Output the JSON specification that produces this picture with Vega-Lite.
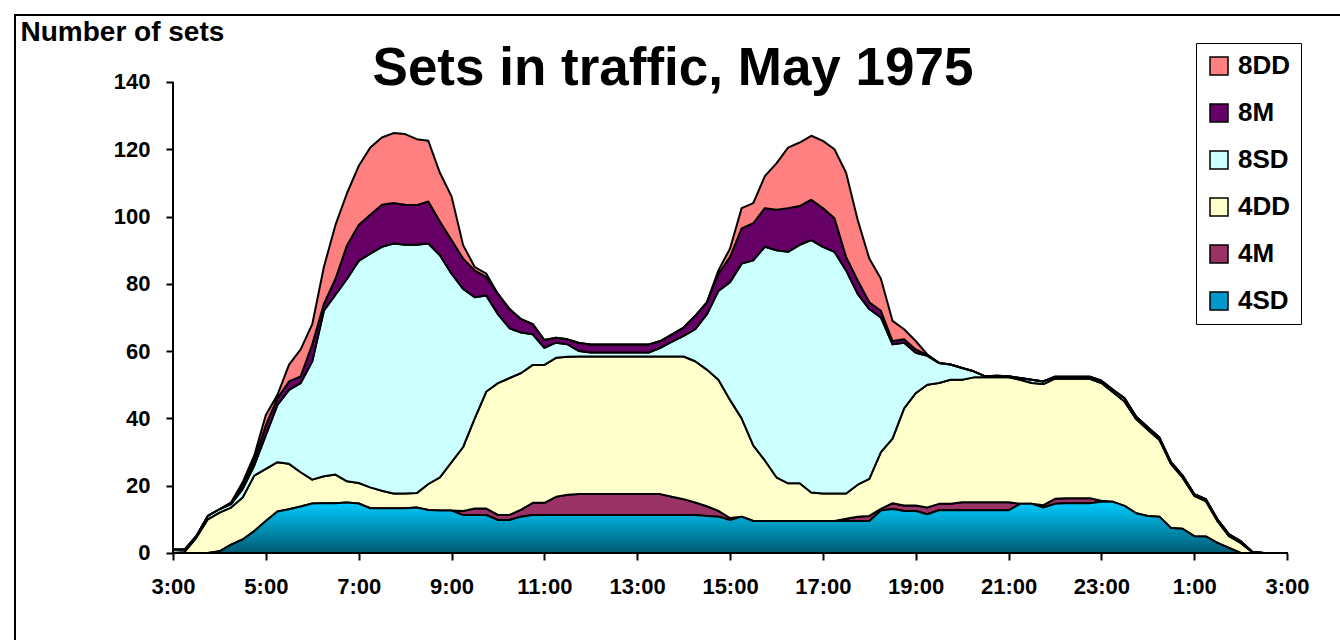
{
  "$schema": "https://vega.github.io/schema/vega-lite/v6.json",
  "width": 1330,
  "height": 630,
  "autosize": "none",
  "padding": {"left": 15, "top": 15, "right": 0, "bottom": 0},
  "background": "white",
  "title": {"text": "Sets in traffic, May 1975", "font": "Liberation Sans", "fontSize": 53, "fontWeight": "bold", "color": "black", "anchor": "middle", "frame": "group", "offset": 0, "baseline": "alphabetic", "dy": 123, "dx": -7},
  "config": {
    "view": {"stroke": "black", "strokeWidth": 2},
    "font": "Liberation Sans",
    "axis": {"grid": false}
  },
  "data": {"values": [
    {"h":0,"4SD":0,"4M":0,"4DD":0,"8SD":1,"8M":0,"8DD":0},
    {"h":0.25,"4SD":0,"4M":0,"4DD":0.3,"8SD":0.7,"8M":0,"8DD":0},
    {"h":0.5,"4SD":0,"4M":0,"4DD":4.5,"8SD":0.5,"8M":0,"8DD":0},
    {"h":0.75,"4SD":0,"4M":0,"4DD":10,"8SD":1,"8M":0,"8DD":0},
    {"h":1,"4SD":0.5,"4M":0,"4DD":11.5,"8SD":1,"8M":0,"8DD":0},
    {"h":1.25,"4SD":2.5,"4M":0,"4DD":11,"8SD":1,"8M":0.5,"8DD":0},
    {"h":1.5,"4SD":4,"4M":0,"4DD":12.5,"8SD":2.5,"8M":1,"8DD":1},
    {"h":1.75,"4SD":6.5,"4M":0,"4DD":16.5,"8SD":3,"8M":1.5,"8DD":1.5},
    {"h":2,"4SD":9.5,"4M":0,"4DD":15.5,"8SD":10,"8M":3,"8DD":3},
    {"h":2.25,"4SD":12.3,"4M":0,"4DD":14.7,"8SD":17,"8M":2,"8DD":1},
    {"h":2.5,"4SD":13,"4M":0,"4DD":13.5,"8SD":22,"8M":2.5,"8DD":5},
    {"h":2.75,"4SD":13.8,"4M":0,"4DD":10.2,"8SD":26.5,"8M":2,"8DD":8},
    {"h":3,"4SD":14.7,"4M":0,"4DD":7.1,"8SD":35.2,"8M":5,"8DD":6},
    {"h":3.25,"4SD":14.8,"4M":0,"4DD":8,"8SD":49.2,"8M":2,"8DD":11},
    {"h":3.5,"4SD":14.8,"4M":0,"4DD":8.5,"8SD":53.5,"8M":4.7,"8DD":16},
    {"h":3.75,"4SD":15,"4M":0,"4DD":6.3,"8SD":60.2,"8M":10,"8DD":15.5},
    {"h":4,"4SD":14.7,"4M":0,"4DD":6.1,"8SD":66,"8M":10.7,"8DD":17.5},
    {"h":4.25,"4SD":13.3,"4M":0,"4DD":6.2,"8SD":69.5,"8M":11.5,"8DD":20},
    {"h":4.5,"4SD":13.3,"4M":0,"4DD":5.2,"8SD":72.5,"8M":12.5,"8DD":20},
    {"h":4.75,"4SD":13.3,"4M":0,"4DD":4.4,"8SD":74.3,"8M":12,"8DD":20.8},
    {"h":5,"4SD":13.3,"4M":0,"4DD":4.4,"8SD":73.9,"8M":11.9,"8DD":21},
    {"h":5.25,"4SD":13.5,"4M":0,"4DD":4.3,"8SD":73.8,"8M":11.8,"8DD":19.6},
    {"h":5.5,"4SD":12.8,"4M":0,"4DD":7.7,"8SD":71.5,"8M":12.5,"8DD":18},
    {"h":5.75,"4SD":12.6,"4M":0,"4DD":9.9,"8SD":66,"8M":10,"8DD":14.5},
    {"h":6,"4SD":12.6,"4M":0,"4DD":14.4,"8SD":56,"8M":10,"8DD":13},
    {"h":6.25,"4SD":11.3,"4M":1.2,"4DD":19,"8SD":47,"8M":9,"8DD":4},
    {"h":6.5,"4SD":11.3,"4M":1.9,"4DD":26.8,"8SD":36,"8M":8,"8DD":1},
    {"h":6.75,"4SD":11.3,"4M":1.9,"4DD":34.8,"8SD":28.5,"8M":5.5,"8DD":1},
    {"h":7,"4SD":9.8,"4M":1.5,"4DD":39.2,"8SD":20.5,"8M":6,"8DD":0},
    {"h":7.25,"4SD":9.8,"4M":1.5,"4DD":40.7,"8SD":14.8,"8M":5.7,"8DD":0},
    {"h":7.5,"4SD":10.8,"4M":2.1,"4DD":40.6,"8SD":12,"8M":4,"8DD":0},
    {"h":7.75,"4SD":11.3,"4M":3.6,"4DD":41,"8SD":9.1,"8M":3,"8DD":0},
    {"h":8,"4SD":11.3,"4M":3.6,"4DD":41,"8SD":5.1,"8M":2.3,"8DD":0},
    {"h":8.25,"4SD":11.3,"4M":5.4,"4DD":41.3,"8SD":4.5,"8M":1.5,"8DD":0},
    {"h":8.5,"4SD":11.3,"4M":6,"4DD":41,"8SD":3.7,"8M":1.5,"8DD":0},
    {"h":8.75,"4SD":11.3,"4M":6.2,"4DD":40.9,"8SD":1.6,"8M":2.4,"8DD":0},
    {"h":9,"4SD":11.3,"4M":6.2,"4DD":40.9,"8SD":1.2,"8M":2.4,"8DD":0},
    {"h":9.25,"4SD":11.3,"4M":6.2,"4DD":40.9,"8SD":1.2,"8M":2.4,"8DD":0},
    {"h":9.5,"4SD":11.3,"4M":6.2,"4DD":40.9,"8SD":1.2,"8M":2.4,"8DD":0},
    {"h":9.75,"4SD":11.3,"4M":6.2,"4DD":40.9,"8SD":1.2,"8M":2.4,"8DD":0},
    {"h":10,"4SD":11.3,"4M":6.2,"4DD":40.9,"8SD":1.2,"8M":2.4,"8DD":0},
    {"h":10.25,"4SD":11.3,"4M":6.2,"4DD":40.9,"8SD":1.2,"8M":2.4,"8DD":0},
    {"h":10.5,"4SD":11.3,"4M":6.2,"4DD":40.9,"8SD":2.6,"8M":2,"8DD":0},
    {"h":10.75,"4SD":11.3,"4M":5.4,"4DD":41.7,"8SD":4.4,"8M":2.2,"8DD":0},
    {"h":11,"4SD":11.3,"4M":4.7,"4DD":42.4,"8SD":6.1,"8M":2.5,"8DD":0},
    {"h":11.25,"4SD":11.3,"4M":3.7,"4DD":42,"8SD":9.5,"8M":4,"8DD":0},
    {"h":11.5,"4SD":11,"4M":2.9,"4DD":40.6,"8SD":16.4,"8M":3.6,"8DD":0},
    {"h":11.75,"4SD":10.8,"4M":1.7,"4DD":39,"8SD":26.4,"8M":5.1,"8DD":1},
    {"h":12,"4SD":9.8,"4M":0.6,"4DD":35.1,"8SD":35,"8M":7.5,"8DD":2.5},
    {"h":12.25,"4SD":10.8,"4M":0,"4DD":29.2,"8SD":46,"8M":10.5,"8DD":6},
    {"h":12.5,"4SD":9.5,"4M":0,"4DD":22.5,"8SD":55,"8M":11,"8DD":6},
    {"h":12.75,"4SD":9.5,"4M":0,"4DD":18,"8SD":63.5,"8M":11.5,"8DD":9.5},
    {"h":13,"4SD":9.5,"4M":0,"4DD":13,"8SD":67.5,"8M":12,"8DD":13.8},
    {"h":13.25,"4SD":9.5,"4M":0,"4DD":11.2,"8SD":68.8,"8M":13,"8DD":18},
    {"h":13.5,"4SD":9.5,"4M":0,"4DD":11.2,"8SD":70.9,"8M":11.5,"8DD":18.9},
    {"h":13.75,"4SD":9.5,"4M":0,"4DD":8.5,"8SD":75,"8M":12,"8DD":19},
    {"h":14,"4SD":9.5,"4M":0,"4DD":8.2,"8SD":73.3,"8M":11.5,"8DD":20},
    {"h":14.25,"4SD":9.5,"4M":0,"4DD":8.2,"8SD":71.8,"8M":10,"8DD":20.5},
    {"h":14.5,"4SD":9.6,"4M":0.6,"4DD":7.5,"8SD":66.3,"8M":4,"8DD":25},
    {"h":14.75,"4SD":9.5,"4M":1.3,"4DD":9.5,"8SD":56.7,"8M":4,"8DD":18},
    {"h":15,"4SD":9.5,"4M":1.5,"4DD":11,"8SD":50.5,"8M":2,"8DD":13},
    {"h":15.25,"4SD":12.6,"4M":0.5,"4DD":16.9,"8SD":40,"8M":2,"8DD":9.5},
    {"h":15.5,"4SD":13.1,"4M":1.7,"4DD":19.2,"8SD":28,"8M":1,"8DD":6},
    {"h":15.75,"4SD":12.5,"4M":1.6,"4DD":28.9,"8SD":19.5,"8M":1,"8DD":3},
    {"h":16,"4SD":12.5,"4M":1.6,"4DD":33.4,"8SD":12,"8M":1,"8DD":2.5},
    {"h":16.25,"4SD":11.5,"4M":2,"4DD":36.5,"8SD":8.6,"8M":0.2,"8DD":0.2},
    {"h":16.5,"4SD":12.7,"4M":1.9,"4DD":35.9,"8SD":6,"8M":0,"8DD":0},
    {"h":16.75,"4SD":12.7,"4M":1.9,"4DD":36.9,"8SD":4.5,"8M":0,"8DD":0},
    {"h":17,"4SD":12.7,"4M":2.4,"4DD":36.4,"8SD":3.5,"8M":0,"8DD":0},
    {"h":17.25,"4SD":12.7,"4M":2.4,"4DD":37.1,"8SD":1.8,"8M":0,"8DD":0},
    {"h":17.5,"4SD":12.7,"4M":2.4,"4DD":37.1,"8SD":0.3,"8M":0,"8DD":0},
    {"h":17.75,"4SD":12.7,"4M":2.4,"4DD":37.1,"8SD":0.5,"8M":0,"8DD":0},
    {"h":18,"4SD":12.7,"4M":2.4,"4DD":37.1,"8SD":0.3,"8M":0,"8DD":0},
    {"h":18.25,"4SD":14.6,"4M":0,"4DD":36.9,"8SD":0.5,"8M":0,"8DD":0},
    {"h":18.5,"4SD":14.6,"4M":0,"4DD":35.9,"8SD":1,"8M":0,"8DD":0},
    {"h":18.75,"4SD":13.5,"4M":0.7,"4DD":36,"8SD":0.8,"8M":0,"8DD":0},
    {"h":19,"4SD":14.6,"4M":1.5,"4DD":35.7,"8SD":0.6,"8M":0,"8DD":0},
    {"h":19.25,"4SD":14.8,"4M":1.5,"4DD":35.5,"8SD":0.6,"8M":0,"8DD":0},
    {"h":19.5,"4SD":14.8,"4M":1.5,"4DD":35.5,"8SD":0.6,"8M":0,"8DD":0},
    {"h":19.75,"4SD":14.8,"4M":1.5,"4DD":35.5,"8SD":0.6,"8M":0,"8DD":0},
    {"h":20,"4SD":15.2,"4M":0.3,"4DD":35,"8SD":0.7,"8M":0,"8DD":0},
    {"h":20.25,"4SD":15.2,"4M":0,"4DD":32.6,"8SD":0.7,"8M":0,"8DD":0},
    {"h":20.5,"4SD":14,"4M":0,"4DD":31,"8SD":1,"8M":0,"8DD":0},
    {"h":20.75,"4SD":11.8,"4M":0,"4DD":28,"8SD":0.7,"8M":0,"8DD":0},
    {"h":21,"4SD":11,"4M":0,"4DD":25.6,"8SD":0.8,"8M":0,"8DD":0},
    {"h":21.25,"4SD":10.8,"4M":0,"4DD":22.8,"8SD":0.7,"8M":0,"8DD":0},
    {"h":21.5,"4SD":7.4,"4M":0,"4DD":19,"8SD":0.6,"8M":0,"8DD":0},
    {"h":21.75,"4SD":7.2,"4M":0,"4DD":15.2,"8SD":0.6,"8M":0,"8DD":0},
    {"h":22,"4SD":5,"4M":0,"4DD":12,"8SD":0.5,"8M":0,"8DD":0},
    {"h":22.25,"4SD":4.9,"4M":0,"4DD":10.5,"8SD":0.6,"8M":0,"8DD":0},
    {"h":22.5,"4SD":3,"4M":0,"4DD":6.5,"8SD":0.5,"8M":0,"8DD":0},
    {"h":22.75,"4SD":1.5,"4M":0,"4DD":3.5,"8SD":0.5,"8M":0,"8DD":0},
    {"h":23,"4SD":0,"4M":0,"4DD":3,"8SD":0.5,"8M":0,"8DD":0},
    {"h":23.25,"4SD":0,"4M":0,"4DD":0.2,"8SD":0.2,"8M":0,"8DD":0},
    {"h":23.5,"4SD":0,"4M":0,"4DD":0,"8SD":0,"8M":0,"8DD":0},
    {"h":23.75,"4SD":0,"4M":0,"4DD":0,"8SD":0,"8M":0,"8DD":0},
    {"h":24,"4SD":0,"4M":0,"4DD":0,"8SD":0,"8M":0,"8DD":0}
  ]},
  "encoding": {
    "x": {
      "field": "h", "type": "quantitative",
      "scale": {"domain": [-3.404, 25.248], "nice": false, "zero": false},
      "axis": {
        "orient": "bottom", "offset": -92, "domain": false,
        "values": [0, 2, 4, 6, 8, 10, 12, 14, 16, 18, 20, 22, 24],
        "labelExpr": "((datum.value + 3) % 24) + ':00'",
        "ticks": true, "tickSize": 7, "tickWidth": 2, "tickColor": "black",
        "labelFont": "Liberation Sans", "labelFontSize": 22, "labelFontWeight": "bold", "labelColor": "black",
        "labelPadding": 16, "labelFlush": false, "labelOverlap": false,
        "title": null
      }
    },
    "y": {
      "field": "sets", "type": "quantitative",
      "scale": {"domain": [-27.35, 159.9], "nice": false, "zero": false},
      "axis": {
        "orient": "left", "offset": -158, "domain": false,
        "values": [0, 20, 40, 60, 80, 100, 120, 140],
        "ticks": true, "tickSize": 7, "tickWidth": 2, "tickColor": "black",
        "labelFont": "Liberation Sans", "labelFontSize": 22, "labelFontWeight": "bold", "labelColor": "black",
        "labelPadding": 16, "labelFlush": false, "labelOverlap": false,
        "title": "Number of sets",
        "titleFont": "Liberation Sans", "titleFontSize": 28, "titleFontWeight": "bold", "titleColor": "black",
        "titleAngle": 0, "titleAlign": "left", "titleBaseline": "alphabetic",
        "titleX": -153, "titleY": 25
      }
    }
  },
  "layer": [
    {
      "transform": [
        {"fold": ["4SD", "4M", "4DD", "8SD", "8M", "8DD"], "as": ["series", "sets"]},
        {"lookup": "series", "from": {"data": {"values": [
          {"series": "4SD", "rank": 1},
          {"series": "4M", "rank": 2},
          {"series": "4DD", "rank": 3},
          {"series": "8SD", "rank": 4},
          {"series": "8M", "rank": 5},
          {"series": "8DD", "rank": 6}
        ]}, "key": "series", "fields": ["rank"]}}
      ],
      "mark": {"type": "area", "stroke": "black", "strokeWidth": 2, "strokeJoin": "round", "interpolate": "linear", "opacity": 1},
      "encoding": {
        "y": {"field": "sets", "type": "quantitative", "stack": "zero"},
        "color": {
          "field": "series", "type": "nominal",
          "scale": {
            "domain": ["8DD", "8M", "8SD", "4DD", "4M", "4SD"],
            "range": ["#FF8080", "#660066", "#CCFFFF", "#FFFFCC", "#993366", "#0099CC"]
          },
          "legend": {
            "orient": "none", "legendX": 1181, "legendY": 28,
            "title": null,
            "strokeColor": "black", "fillColor": "white", "padding": 10,
            "symbolType": "square", "symbolSize": 324, "symbolStrokeColor": "black", "symbolStrokeWidth": 1.5, "symbolOpacity": 1,
            "labelFont": "Liberation Sans", "labelFontSize": 26, "labelFontWeight": "bold", "labelColor": "black",
            "labelOffset": 6, "rowPadding": 21
          }
        },
        "order": {"field": "rank", "type": "quantitative", "sort": "ascending"}
      }
    },
    {
      "transform": [
        {"fold": ["4SD"], "as": ["series", "sets"]}
      ],
      "mark": {
        "type": "area", "stroke": "black", "strokeWidth": 2, "strokeJoin": "round", "interpolate": "linear",
        "fill": {"gradient": "linear", "x1": 0, "y1": 0, "x2": 0, "y2": 1, "stops": [
          {"offset": 0, "color": "#00CCFF"},
          {"offset": 1, "color": "#005A73"}
        ]}
      },
      "encoding": {
        "y": {"field": "sets", "type": "quantitative", "stack": null}
      }
    },
    {
      "data": {"values": [{"h0": 0, "h1": 24, "v": 0}]},
      "mark": {"type": "rule", "color": "black", "strokeWidth": 2},
      "encoding": {
        "x": {"field": "h0", "type": "quantitative"},
        "x2": {"field": "h1"},
        "y": {"field": "v", "type": "quantitative"}
      }
    },
    {
      "data": {"values": [{"h0": 0, "v0": 0, "v1": 140}]},
      "mark": {"type": "rule", "color": "black", "strokeWidth": 2},
      "encoding": {
        "x": {"field": "h0", "type": "quantitative"},
        "y": {"field": "v0", "type": "quantitative"},
        "y2": {"field": "v1"}
      }
    }
  ]
}
